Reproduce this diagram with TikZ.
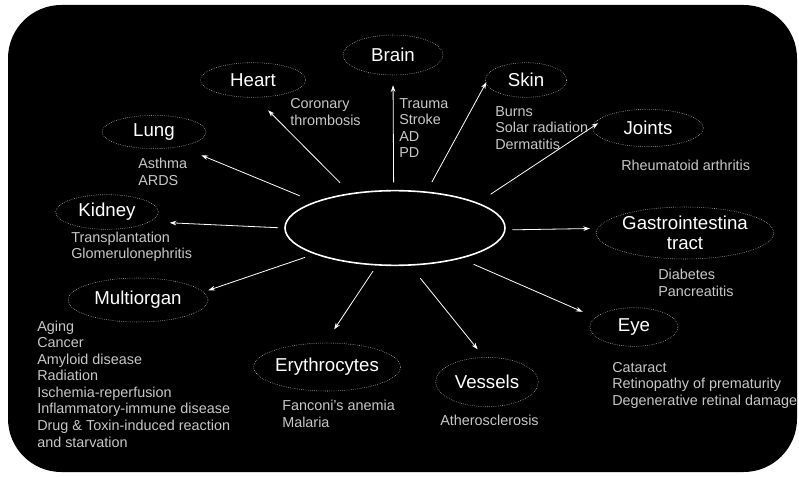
\documentclass[tikz,border=0pt]{standalone}
\usepackage{fontspec}
\setmainfont{Liberation Sans}
\usetikzlibrary{arrows.meta,shapes.geometric}

\begin{document}
\begin{tikzpicture}[x=0.75pt, y=-0.75pt, >={Stealth[length=5pt,width=3.5pt]},
  organ/.style={ellipse, draw=white!85!black, densely dotted, thin, inner sep=0pt,
    text=white, font=\fontsize{14}{16}\selectfont, align=center},
  cause/.style={anchor=west, inner sep=0pt, align=left, text=white!78!black,
    font=\fontsize{10.8}{12.4}\selectfont},
  link/.style={->, white, line width=0.6pt}]
  % Frame
  \useasboundingbox (0,0) rectangle (799,477);
  \fill[black, rounded corners=40pt] (8,5) rectangle (797,472);
  % Centre
  \node[ellipse, draw=white, line width=1.2pt, minimum width=165pt, minimum height=56pt] (hub) at (395,228) {};
  % Organs
  \node[organ, minimum width=75pt, minimum height=30pt] (brain) at (393,55) {Brain};
  \node[organ, minimum width=79pt, minimum height=26pt] (heart) at (253,80) {Heart};
  \node[organ, minimum width=78pt, minimum height=25pt] (lung) at (154,132) {Lung};
  \node[organ, minimum width=77pt, minimum height=26pt] (kidney) at (107,212) {Kidney};
  \node[organ, minimum width=105pt, minimum height=33pt] (multi) at (138,300) {Multiorgan};
  \node[organ, minimum width=105pt, minimum height=36pt] (erythro) at (327,367) {Erythrocytes};
  \node[organ, minimum width=77pt, minimum height=37pt] (vessels) at (487,382) {Vessels};
  \node[organ, minimum width=66pt, minimum height=29pt] (eye) at (634,327) {Eye};
  \node[organ, minimum width=131pt, minimum height=39pt] (gi) at (685,233) {Gastrointestina\\[-1pt]tract};
  \node[organ, minimum width=83pt, minimum height=28pt] (joints) at (648,128) {Joints};
  \node[organ, minimum width=61pt, minimum height=26pt] (skin) at (526,80) {Skin};
  % Links
  \draw[link, shorten <=5.6pt, shorten >=7.5pt] (hub.92) -- (brain.270);
  \draw[link, shorten <=11pt, shorten >=13.5pt] (hub.142) -- (heart.278);
  \draw[link, shorten <=12pt, shorten >=17pt] (hub.162) -- (lung.331);
  \draw[link, shorten <=4.5pt, shorten >=15pt] (hub.180) -- (kidney.347);
  \draw[link, shorten <=7.5pt, shorten >=3.8pt] (hub.198) -- (multi.7);
  \draw[link, shorten <=5pt, shorten >=12pt] (hub.244) -- (erythro.94);
  \draw[link, shorten <=12pt, shorten >=7.5pt] (hub.292) -- (vessels.97);
  \draw[link, shorten <=10.5pt, shorten >=10.5pt] (hub.335) -- (eye.166);
  \draw[link, shorten <=5pt, shorten >=5.5pt] (hub.359) -- (gi.177);
  \draw[link, shorten <=11.5pt, shorten >=13.5pt] (hub.17) -- (joints.157);
  \draw[link, shorten <=8pt, shorten >=11pt] (hub.49) -- (skin.162);
  % Causes
  \node[cause] (brainc) at (399,128) {Trauma\\Stroke\\AD\\PD};
  \node[cause] (heartc) at (290,112) {Coronary\\thrombosis};
  \node[cause] (lungc) at (138,172) {Asthma\\ARDS};
  \node[cause] (kidneyc) at (71,247) {Transplantation\\Glomerulonephritis};
  \node[cause] (multic) at (37,384) {Aging\\Cancer\\Amyloid disease\\Radiation\\Ischemia-reperfusion\\Inflammatory-immune disease\\Drug \& Toxin-induced reaction\\and starvation};
  \node[cause] (erythroc) at (282,414) {Fanconi's anemia\\Malaria};
  \node[cause] (vesselsc) at (440,420) {Atherosclerosis};
  \node[cause] (eyec) at (612,385) {Cataract\\Retinopathy of prematurity\\Degenerative retinal damage};
  \node[cause] (gic) at (658,283) {Diabetes\\Pancreatitis};
  \node[cause] (jointsc) at (621,165) {Rheumatoid arthritis};
  \node[cause] (skinc) at (495,128) {Burns\\Solar radiation\\Dermatitis};
\end{tikzpicture}
\end{document}
